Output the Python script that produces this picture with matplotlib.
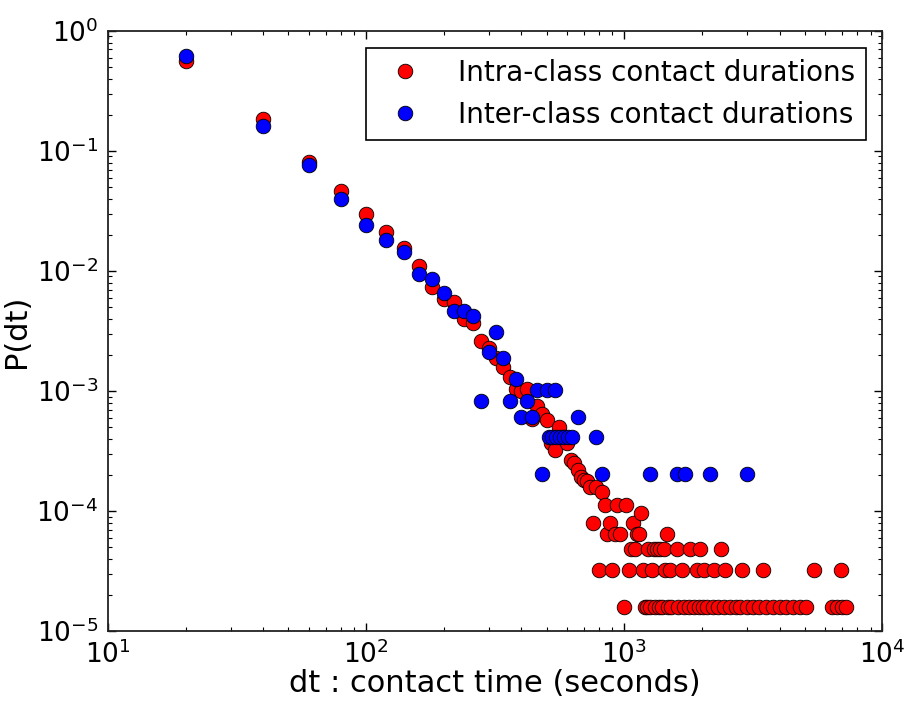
import matplotlib
matplotlib.use('Agg')
import matplotlib.pyplot as plt
import numpy as np

# Intra-class contact durations (red)
intra_dt = [20, 40, 60, 80, 100, 120, 140, 160, 180, 200, 220, 240, 260, 280, 300,
            320, 340, 360, 380, 400, 420, 440, 460, 480, 500, 520, 540, 560, 580, 600,
            620, 640, 660, 680, 700, 720, 740, 760, 780, 800, 820, 840, 860, 880, 900,
            920, 940, 960, 1000, 1020, 1040, 1060, 1080, 1100, 1120, 1140, 1160, 1180,
            # 4.8e-5 row
            1240, 1300, 1340, 1380, 1420, 1600, 1800, 1960, 2360,
            # 6.4e-5
            1460,
            # 3.2e-5 row
            1280, 1440, 1500, 1680, 1920, 2040, 2220, 2460, 2860, 3460, 5420, 6940,
            # 1.6e-5 row
            1200, 1220, 1260, 1320, 1360, 1400, 1480, 1520, 1620, 1700, 1780, 1860,
            1940, 2020, 2100, 2200, 2300, 2440, 2560, 2700, 2820, 2980, 3160, 3340,
            3550, 3760, 4000, 4240, 4500, 4780, 5060, 6380, 6680, 6960, 7200]
intra_p = [0.566, 0.185, 0.0815, 0.0467, 0.0297, 0.0213, 0.0155, 0.0111, 0.0073, 0.0058,
           0.0055, 0.0040, 0.0037, 0.0026, 0.0023, 0.0019, 0.0016, 0.0013, 0.00103, 0.00100,
           0.00104, 0.00059, 0.00075, 0.00064, 0.00057, 0.00037, 0.00032, 0.00050, 0.00041,
           0.00037, 0.000266, 0.000252, 0.00022, 0.000193, 0.000181, 0.000178, 0.00016,
           8.0e-5, 0.00016, 3.2e-5, 0.000144, 0.000112, 6.4e-5, 8.0e-5, 3.2e-5, 6.4e-5,
           0.000112, 6.4e-5, 1.6e-5, 0.000112, 3.2e-5, 4.8e-5, 8.0e-5, 4.8e-5, 6.4e-5,
           6.4e-5, 9.6e-5, 3.2e-5,
           4.8e-5, 4.8e-5, 4.8e-5, 4.8e-5, 4.8e-5, 4.8e-5, 4.8e-5, 4.8e-5, 4.8e-5,
           6.4e-5,
           3.2e-5, 3.2e-5, 3.2e-5, 3.2e-5, 3.2e-5, 3.2e-5, 3.2e-5, 3.2e-5, 3.2e-5, 3.2e-5,
           3.2e-5, 3.2e-5,
           1.6e-5, 1.6e-5, 1.6e-5, 1.6e-5, 1.6e-5, 1.6e-5, 1.6e-5, 1.6e-5, 1.6e-5, 1.6e-5,
           1.6e-5, 1.6e-5, 1.6e-5, 1.6e-5, 1.6e-5, 1.6e-5, 1.6e-5, 1.6e-5, 1.6e-5, 1.6e-5,
           1.6e-5, 1.6e-5, 1.6e-5, 1.6e-5, 1.6e-5, 1.6e-5, 1.6e-5, 1.6e-5, 1.6e-5, 1.6e-5,
           1.6e-5, 1.6e-5, 1.6e-5, 1.6e-5, 1.6e-5]

# Inter-class contact durations (blue)
inter_dt = [20, 40, 60, 80, 100, 120, 140, 160, 180, 200, 220, 240, 260, 280, 300,
            320, 340, 360, 380, 400, 420, 440, 460, 480, 500, 540,
            510, 525, 545, 565, 585, 605, 630, 660, 780, 820, 1260, 1600, 1720, 2140, 2980]
inter_p = [0.619, 0.162, 0.0764, 0.0396, 0.0242, 0.0181, 0.0145, 0.0094, 0.0085, 0.0066,
           0.0046, 0.0046, 0.0042, 0.00082, 0.0021, 0.0031, 0.0019, 0.00082, 0.00125,
           0.00061, 0.00082, 0.00061, 0.00102, 0.000204, 0.00102, 0.00102,
           0.00041, 0.00041, 0.00041, 0.00041, 0.00041, 0.00041, 0.00041, 0.00061,
           0.00041, 0.000204, 0.000204, 0.000204, 0.000204, 0.000204, 0.000204]

fig = plt.figure(figsize=(9.06, 7.02), dpi=100)
ax = fig.add_axes([0.119, 0.101, 0.855, 0.855])

ax.plot(intra_dt, intra_p, 'o', color='#ff0000', markeredgecolor='black',
        markeredgewidth=0.6, markersize=10.5, label='Intra-class contact durations')
ax.plot(inter_dt, inter_p, 'o', color='#0000ff', markeredgecolor='black',
        markeredgewidth=0.6, markersize=10.5, label='Inter-class contact durations')

ax.set_xscale('log')
ax.set_yscale('log')
ax.set_xlim(10, 1e4)
ax.set_ylim(1e-5, 1)

ax.set_xlabel('dt : contact time (seconds)', fontsize=22, labelpad=0)
ax.set_ylabel('P(dt)', fontsize=22, labelpad=4)

ax.tick_params(which='both', direction='in', top=True, right=True, labelsize=19)
ax.tick_params(which='major', length=6, width=1, pad=7)
ax.tick_params(which='minor', length=3, width=0.8)
for s in ax.spines.values():
    s.set_linewidth(1.3)
    s.set_color('#222222')

leg = ax.legend(loc='upper right', numpoints=1, fontsize=20, fancybox=False,
                framealpha=1, edgecolor='black', handletextpad=0.9,
                borderaxespad=0.6)
leg.get_frame().set_linewidth(1.2)

fig.savefig('out.png', dpi=100)
